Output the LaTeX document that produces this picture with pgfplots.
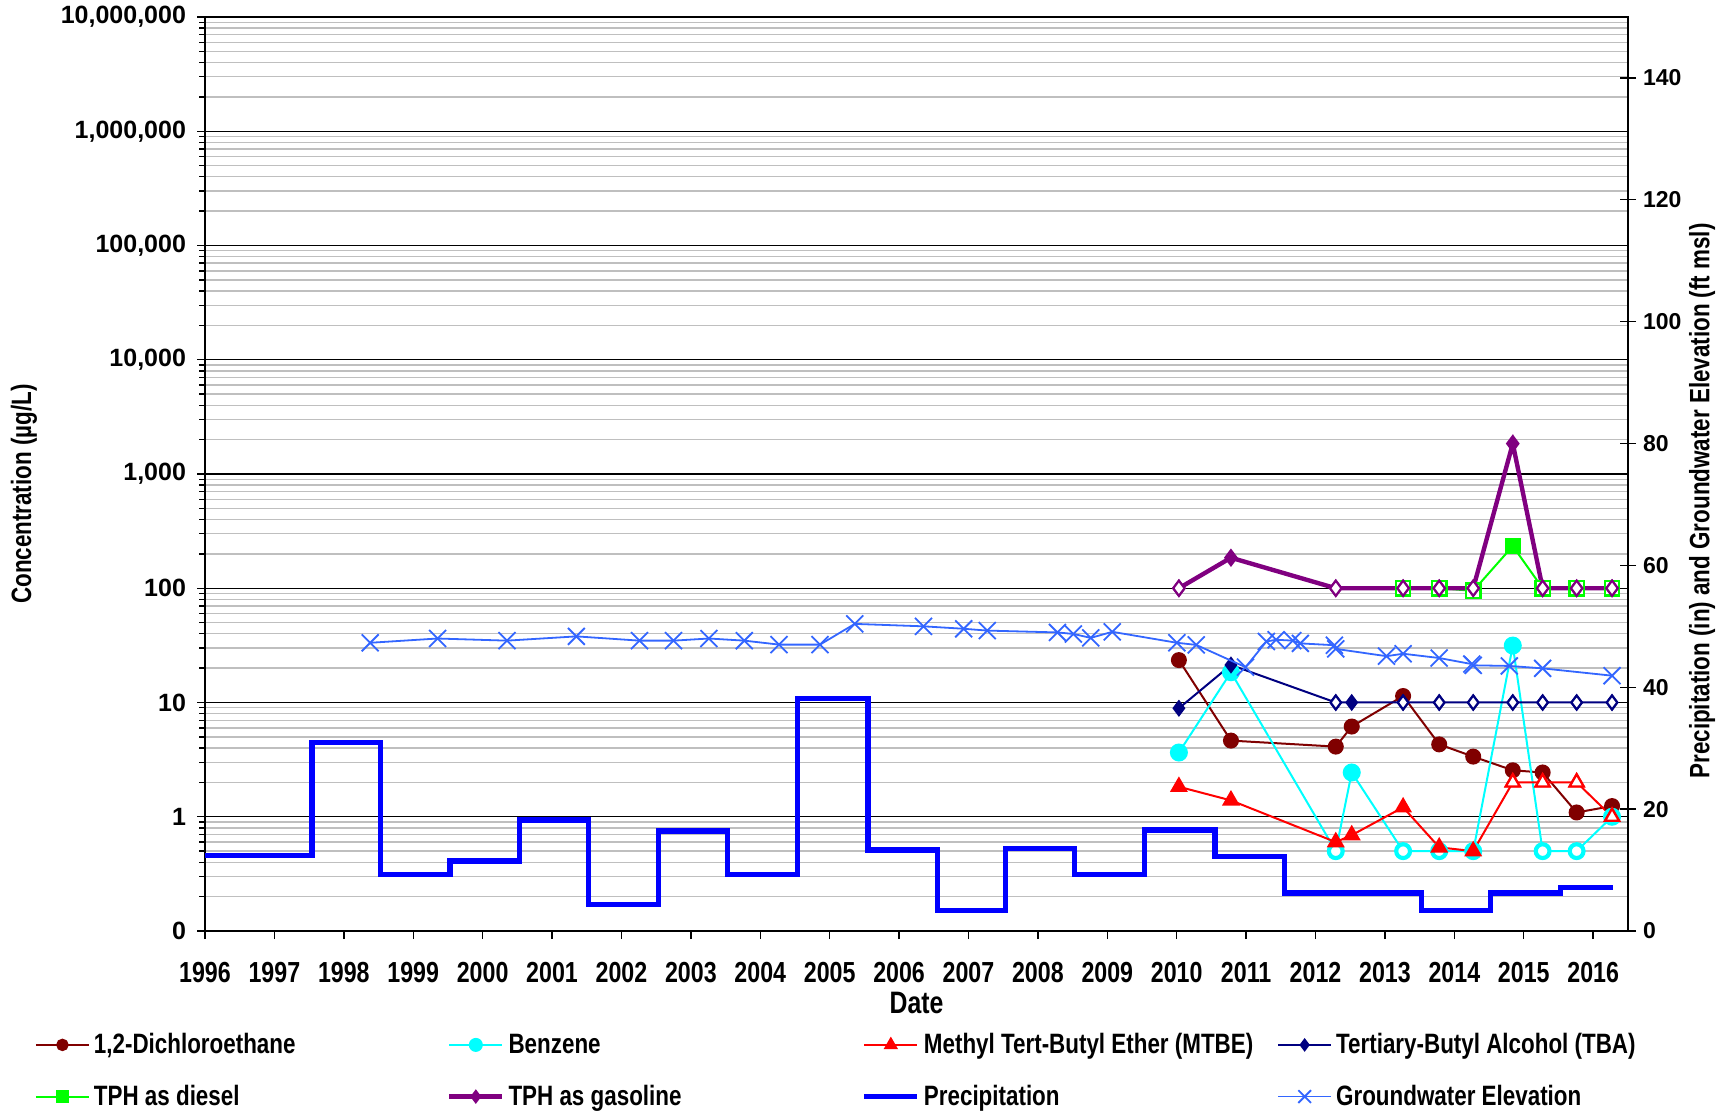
\documentclass[border=0pt]{standalone}
\usepackage{fontspec}
\setmainfont{Liberation Sans}
\newfontfamily\nf{Liberation Sans}[FakeStretch=0.8]
\usepackage{pgfplots}
\pgfplotsset{compat=1.18}
\definecolor{dca}{HTML}{800000}
\definecolor{benz}{HTML}{00FFFF}
\definecolor{mtbe}{HTML}{FF0000}
\definecolor{tba}{HTML}{000080}
\definecolor{diesel}{HTML}{00FF00}
\definecolor{gas}{HTML}{800080}
\definecolor{precip}{HTML}{0000FF}
\definecolor{gw}{HTML}{3366FF}
\definecolor{mgrid}{HTML}{BFBFBF}
\newcommand{\lgd}[1]{\makebox[174.6pt][l]{#1}}
\begin{document}
\begin{tikzpicture}
\useasboundingbox (-102.5pt,-90.5pt) rectangle (761pt,465.5pt);
\begin{axis}[
  at={(0,0)}, anchor=south west,
  scale only axis, width=711.5pt, height=457pt,
  xmin=1996, xmax=2016.5,
  ymode=log, ymin=0.1, ymax=1e7,
  xtick={1996,1997,...,2016},
  xticklabels={1996,1997,1998,1999,2000,2001,2002,2003,2004,2005,2006,2007,2008,2009,2010,2011,2012,2013,2014,2015,2016},
  ytick={0.1,1,10,100,1000,10000,100000,1000000,10000000},
  yticklabels={0,1,10,100,{1,000},{10,000},{100,000},{1,000,000},{10,000,000}},
  minor ytick={0.2,0.3,0.4,0.5,0.6,0.7,0.8,0.9,2,3,4,5,6,7,8,9,20,30,40,50,60,70,80,90,200,300,400,500,600,700,800,900,2000,3000,4000,5000,6000,7000,8000,9000,2e4,3e4,4e4,5e4,6e4,7e4,8e4,9e4,2e5,3e5,4e5,5e5,6e5,7e5,8e5,9e5,2e6,3e6,4e6,5e6,6e6,7e6,8e6,9e6},
  xtick pos=bottom, ytick pos=left,
  tick align=outside,
  major tick length=4pt, minor tick length=3pt,
  every tick/.style={black, line width=0.7pt},
  ymajorgrids, yminorgrids,
  major grid style={black, line width=0.7pt},
  minor grid style={mgrid, line width=0.7pt},
  axis line style={line width=0.8pt},
  xticklabel style={font=\nf\bfseries\fontsize{14.5}{16}\selectfont, anchor=center, yshift=-16.8pt},
  yticklabel style={font=\bfseries\fontsize{12.5}{14}\selectfont, xshift=-2pt},
  xlabel={Date},
  every axis x label/.style={at={(axis description cs:0.5,-0.0785)}, anchor=center, font=\nf\bfseries\fontsize{15.5}{17}\selectfont},
  ylabel={Concentration (µg/L)},
  every axis y label/.style={at={(axis description cs:-0.1272,0.478)}, rotate=90, anchor=center, font=\nf\bfseries\fontsize{14}{16}\selectfont},
  legend columns=4,
  legend cell align=left,
  legend style={at={(axis description cs:-0.1195,-0.1075)}, anchor=north west, draw=none, fill=none,
    column sep=0pt, row sep=10.2pt, inner sep=0pt, outer sep=0pt, nodes={inner sep=2pt},
    font=\nf\bfseries\fontsize{14}{16}\selectfont},
  legend image code/.code={\draw[mark repeat=2,mark phase=2,#1] plot coordinates {(0pt,0pt) (13.25pt,0pt) (26.5pt,0pt)};},
  legend image post style={/tikz/every mark/.append style={scale=0.75}},
]
% 1,2-Dichloroethane
\addplot[dca, line width=1pt, mark=*, mark size=3.5pt, mark options={fill=dca, solid}] coordinates {
(2010.03,23.5) (2010.78,4.64) (2012.29,4.11) (2012.52,6.16) (2013.26,11.4) (2013.78,4.3) (2014.27,3.36) (2014.84,2.55) (2015.27,2.44) (2015.76,1.09) (2016.27,1.24)};
\addlegendentry{\lgd{1,2-Dichloroethane}}
% Benzene
\addplot[benz, line width=1pt, mark=*, mark size=4pt, mark options={fill=benz, solid}] coordinates {
(2010.03,3.65) (2010.78,18.4) (2012.29,0.5) (2012.52,2.44) (2013.26,0.5) (2013.78,0.5) (2014.27,0.5) (2014.84,31.5) (2015.27,0.5) (2015.76,0.5) (2016.27,1.0)};
\addlegendentry{\lgd{Benzene}}
\addplot[forget plot, only marks, mark=*, mark size=3.3pt, mark options={draw=benz, fill=white, line width=1.8pt}] coordinates {
(2012.29,0.5) (2013.26,0.5) (2013.78,0.5) (2014.27,0.5) (2015.27,0.5) (2015.76,0.5) (2016.27,1.0)};
% MTBE
\addplot[mtbe, line width=1pt, mark=triangle*, mark size=4.2pt, mark options={fill=mtbe, solid}] coordinates {
(2010.03,1.83) (2010.78,1.39) (2012.29,0.6) (2012.52,0.69) (2013.26,1.21) (2013.78,0.54) (2014.27,0.5) (2014.84,2) (2015.27,2) (2015.76,2) (2016.27,1)};
\addlegendentry{\lgd{Methyl Tert-Butyl Ether (MTBE)}}
\addplot[forget plot, only marks, mark=triangle*, mark size=4pt, mark options={draw=mtbe, fill=white, line width=1.1pt}] coordinates {
(2014.84,2) (2015.27,2) (2015.76,2) (2016.27,1)};
% TBA
\addplot[tba, line width=1pt, mark=diamond*, mark size=3.5pt, mark options={fill=tba, solid}] coordinates {
(2010.03,8.9) (2010.78,21.3) (2012.29,10) (2012.52,10) (2013.26,10) (2013.78,10) (2014.27,10) (2014.84,10) (2015.27,10) (2015.76,10) (2016.27,10)};
\addlegendentry{\lgd{Tertiary-Butyl Alcohol (TBA)}}
\addplot[forget plot, only marks, mark=diamond*, mark size=3.5pt, mark options={draw=tba, fill=white, line width=1.1pt}] coordinates {
(2012.29,10) (2013.26,10) (2013.78,10) (2014.27,10) (2014.84,10) (2015.27,10) (2015.76,10) (2016.27,10)};
% TPH diesel
\addplot[diesel, line width=1pt, mark=square*, mark size=3.6pt, mark options={fill=diesel, solid}] coordinates {
(2013.26,100) (2013.78,100) (2014.27,95) (2014.84,234) (2015.27,100) (2015.76,100) (2016.27,100)};
\addlegendentry{\lgd{TPH as diesel}}
\addplot[forget plot, only marks, mark=square*, mark size=3.6pt, mark options={draw=diesel, fill=white, line width=1.1pt}] coordinates {
(2013.26,100) (2013.78,100) (2014.27,95) (2015.27,100) (2015.76,100) (2016.27,100)};
% TPH gasoline
\addplot[gas, line width=2.2pt, mark=diamond*, mark size=3.8pt, mark options={fill=gas, solid, line width=1pt}] coordinates {
(2010.03,100) (2010.78,185) (2012.29,100) (2013.26,100) (2013.78,100) (2014.27,100) (2014.84,1846) (2015.27,100) (2015.76,100) (2016.27,100)};
\addlegendentry{\lgd{TPH as gasoline}}
\addplot[forget plot, only marks, mark=diamond*, mark size=3.8pt, mark options={draw=gas, fill=white, line width=1.1pt}] coordinates {
(2010.03,100) (2012.29,100) (2013.26,100) (2013.78,100) (2014.27,100) (2015.27,100) (2015.76,100) (2016.27,100)};
\addlegendimage{precip, line width=2.6pt}
\addlegendentry{\lgd{Precipitation}}
\addlegendimage{gw, line width=0.9pt, mark=x, mark size=6pt, mark options={solid, line width=0.9pt}}
\addlegendentry{\lgd{Groundwater Elevation}}
\end{axis}
\begin{axis}[
  at={(0,0)}, anchor=south west,
  scale only axis, width=711.5pt, height=457pt,
  xmin=1996, xmax=2016.5,
  ymin=0, ymax=150,
  axis x line=none,
  axis y line*=right,
  ytick={0,20,40,60,80,100,120,140},
  yticklabels={0,20,40,60,80,100,120,140},
  tick align=center,
  major tick length=8pt,
  every tick/.style={black, line width=0.7pt},
  axis line style={line width=0.8pt},
  yticklabel style={font=\bfseries\fontsize{11.5}{13}\selectfont},
  ylabel={Precipitation (in) and Groundwater Elevation (ft msl)},
  every axis y label/.style={at={(axis description cs:1.052,0.4705)}, rotate=90, anchor=center, font=\nf\bfseries\fontsize{14}{16}\selectfont},
]
\addplot[const plot mark left, precip, line width=2.6pt, no marks] coordinates {
(1996,12.45) (1997.54,30.9) (1998.53,9.27) (1999.53,11.5) (2000.53,18.2) (2001.53,4.39) (2002.53,16.4) (2003.53,9.27) (2004.54,38.2) (2005.55,13.3) (2006.55,3.3) (2007.53,13.55) (2008.53,9.27) (2009.54,16.56) (2010.55,12.2) (2011.55,6.25) (2013.52,3.34) (2014.52,6.25) (2015.53,7.16) (2016.29,7.16)};
\addplot[gw, line width=0.9pt, mark=x, mark size=6pt, mark options={solid, line width=0.9pt}] coordinates {
(1998.38,47.3) (1999.35,48.0) (2000.35,47.65) (2001.35,48.35) (2002.26,47.65) (2002.75,47.65) (2003.26,48.0) (2003.77,47.65) (2004.27,47.0) (2004.86,47.0) (2005.36,50.4) (2006.35,50.0) (2006.93,49.6) (2007.27,49.3) (2008.28,49.0) (2008.51,48.75) (2008.76,48.1) (2009.07,49.1) (2010.0,47.3) (2010.28,46.95) (2010.99,43.3) (2011.29,47.5) (2011.43,47.8) (2011.67,47.65) (2011.78,47.2) (2012.27,46.9) (2012.29,46.3) (2013.02,45.1) (2013.26,45.5) (2013.78,44.8) (2014.25,43.8) (2014.27,43.6) (2014.79,43.5) (2015.27,43.1) (2016.27,41.9)};
\end{axis}
\end{tikzpicture}
\end{document}
